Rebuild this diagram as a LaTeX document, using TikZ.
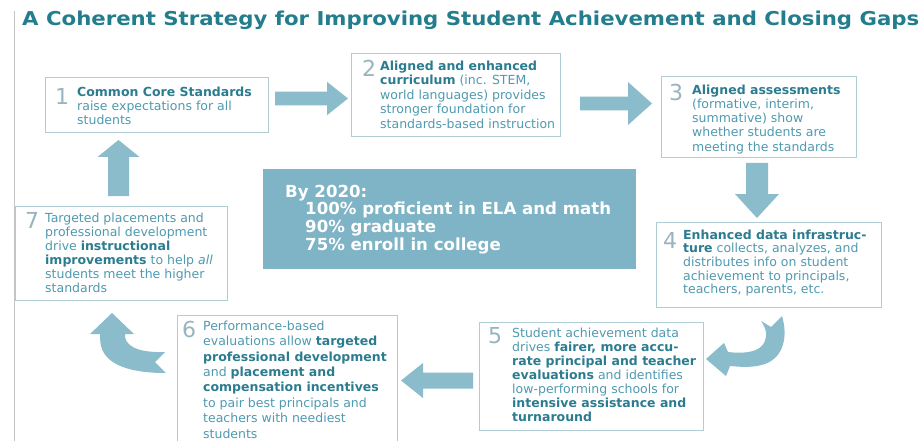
\documentclass[tikz,border=0pt]{standalone}
\usepackage{fontspec}
\setmainfont{DejaVu Sans}
\usetikzlibrary{calc}

\definecolor{titlecol}{HTML}{237D8C}
\definecolor{boldcol}{HTML}{2C7C90}
\definecolor{textcol}{HTML}{4F9AB0}
\definecolor{numcol}{HTML}{98B4BF}
\definecolor{boxline}{HTML}{B0CDD6}
\definecolor{arrowcol}{HTML}{8BBCCB}
\definecolor{goalfill}{HTML}{7EB4C5}
\definecolor{rulecol}{HTML}{C4C4C4}

\newcommand{\hl}[1]{\textbf{\color{boldcol}#1}}
% straight block arrow: origin, direction, length, shaft half width, head half width, head length
\newcommand{\blockarrow}[6]{%
  \fill[arrowcol, shift={(#1)}, rotate=#2]
    (0,-#4) -- ({#3-#6},-#4) -- ({#3-#6},-#5) -- (#3,0) --
    ({#3-#6},#5) -- ({#3-#6},#4) -- (0,#4) -- cycle;}

\tikzset{
  box/.style={draw=boxline, line width=1pt, fill=white, anchor=north west,
    inner sep=0pt, outer sep=0pt},
  num/.style={anchor=north west, inner sep=0pt, text=numcol,
    font=\fontsize{22}{22}\selectfont},
  body/.style={anchor=north west, inner sep=0pt, align=left, text=textcol},
}

\begin{document}
\begin{tikzpicture}[x=1pt, y=-1pt]
\useasboundingbox (0,0) rectangle (921,441);
\fill[white] (0,0) rectangle (921,441);

% thin rule along the left margin
\draw[rulecol, line width=0.8pt] (14,11) -- (14,441);

% title
\node[anchor=base west, inner sep=0pt] (title) at (22,26)
  {\resizebox{897pt}{14.5pt}{\bfseries\color{titlecol}A Coherent Strategy for Improving Student Achievement and Closing Gaps}};

% step boxes
\node[box, minimum width=223pt, minimum height=55pt]  (b1) at (45,78) {};
\node[box, minimum width=209pt, minimum height=83pt]  (b2) at (351,54) {};
\node[box, minimum width=195pt, minimum height=81pt]  (b3) at (661,77) {};
\node[box, minimum width=225pt, minimum height=85pt]  (b4) at (656,222) {};
\node[box, minimum width=224pt, minimum height=108pt] (b5) at (479,322) {};
\node[box, minimum width=220pt, minimum height=140pt] (b6) at (177,315) {};
\node[box, minimum width=212pt, minimum height=94pt]  (b7) at (15,206) {};

% goal panel
\node[anchor=north west, fill=goalfill, minimum width=373pt, minimum height=100pt,
  inner sep=0pt] (goal) at (263,169) {};
\node[anchor=north west, inner sep=0pt, align=left, text=white,
  font=\fontsize{16.6}{17.7}\selectfont\bfseries] (goaltext) at (285,184.5)
  {By 2020:\\
   \hspace*{20pt}100\% proficient in ELA and math\\
   \hspace*{20pt}90\% graduate\\
   \hspace*{20pt}75\% enroll in college};

% step numbers
\node[num] (n1) at (55,88)  {1};
\node[num] (n2) at (362,60) {2};
\node[num] (n3) at (669,84) {3};
\node[num] (n4) at (663,232) {4};
\node[num] (n5) at (488,327) {5};
\node[num] (n6) at (182,321) {6};
\node[num] (n7) at (25,212) {7};

% step texts
\node[body, font=\fontsize{12.5}{14.3}\selectfont] (t1) at (77,86.6)
  {\hl{Common Core Standards}\\
   raise expectations for all\\
   students};
\node[body, font=\fontsize{12.5}{14.5}\selectfont] (t2) at (380,60.6)
  {\hl{Aligned and enhanced}\\
   \hl{curriculum} (inc. STEM,\\
   world languages) provides\\
   stronger foundation for\\
   standards-based instruction};
\node[body, font=\fontsize{12.5}{14.2}\selectfont] (t3) at (692,84.6)
  {\hl{Aligned assessments}\\
   (formative, interim,\\
   summative) show\\
   whether students are\\
   meeting the standards};
\node[body, font=\fontsize{12.5}{13.6}\selectfont] (t4) at (683,229.6)
  {\hl{Enhanced data infrastruc-}\\
   \hl{ture} collects, analyzes, and\\
   distributes info on student\\
   achievement to principals,\\
   teachers, parents, etc.};
\node[body, font=\fontsize{12.5}{14}\selectfont] (t5) at (512,327.6)
  {Student achievement data\\
   drives \hl{fairer, more accu-}\\
   \hl{rate principal and teacher}\\
   \hl{evaluations} and identifies\\
   low-performing schools for\\
   \hl{intensive assistance and}\\
   \hl{turnaround}};
\node[body, font=\fontsize{12.5}{15.4}\selectfont] (t6) at (203,320.6)
  {Performance-based\\
   evaluations allow \hl{targeted}\\
   \hl{professional development}\\
   and \hl{placement and}\\
   \hl{compensation incentives}\\
   to pair best principals and\\
   teachers with neediest\\
   students};
\node[body, font=\fontsize{12.5}{14}\selectfont] (t7) at (45,212.6)
  {Targeted placements and\\
   professional development\\
   drive \hl{instructional}\\
   \hl{improvements} to help \textit{all}\\
   students meet the higher\\
   standards};

% straight block arrows between the steps
\blockarrow{275,98.5}{0}{73}{6.8}{16.7}{21}     % 1 -> 2
\blockarrow{580,103.5}{0}{72}{6.8}{21.5}{24}    % 2 -> 3
\blockarrow{757,163}{-90}{55}{11}{22}{24}       % 3 -> 4
\blockarrow{473,380.5}{180}{72}{8}{17.5}{22}    % 5 -> 6
\blockarrow{118.5,196}{90}{56}{10.5}{21}{17}    % 7 -> 1

% curved arrow from step 4 down to step 5
\fill[arrowcol]
  (761,321) -- (771,327) -- (782,316)
  .. controls (788,336) and (784,357) .. (765,364)
  .. controls (753,368) and (741,367) .. (730,366)
  -- (726,376) -- (706,359) -- (724,343) -- (728,352)
  .. controls (745,354) and (759,352) .. (764,343)
  .. controls (768,335) and (766,328) .. (761,321) -- cycle;

% curved arrow from step 6 up to step 7
\fill[arrowcol]
  (112,313) -- (134,334) -- (125,334)
  .. controls (124,345) and (136,353) .. (165,352)
  -- (155,362) -- (166,373)
  .. controls (130,373) and (106,365) .. (101,346)
  .. controls (100,341) and (100,337) .. (100,334)
  -- (90,334) -- cycle;
\end{tikzpicture}
\end{document}
